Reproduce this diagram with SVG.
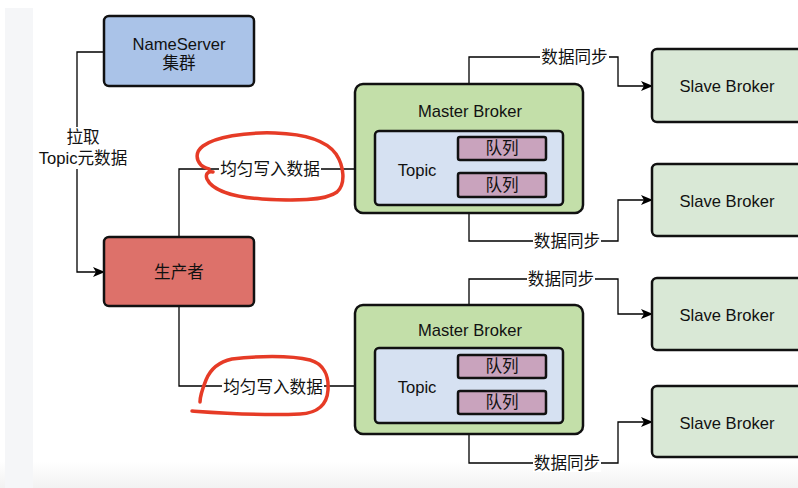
<svg xmlns="http://www.w3.org/2000/svg" width="798" height="488" viewBox="0 0 798 488">
<defs>
<marker id="arr" viewBox="0 0 12 10" refX="11" refY="5" markerWidth="12" markerHeight="10" markerUnits="userSpaceOnUse" orient="auto">
<path d="M0,0 L12,5 L0,10 L3,5 Z" fill="#000"/>
</marker>
<linearGradient id="bot" x1="0" y1="0" x2="0" y2="1">
<stop offset="0" stop-color="#ffffff"/>
<stop offset="1" stop-color="#f2f2f2"/>
</linearGradient>
<style>
.box{stroke:#111;stroke-width:2.5}
.t{font-family:"Liberation Sans","Noto Sans CJK SC",sans-serif;font-size:16.6px;fill:#111;text-anchor:middle;dominant-baseline:central}
.c{fill:none;stroke:#000;stroke-width:1.3}
.lb{fill:#fff}
.red{fill:none;stroke:#e63b26;stroke-width:3.5;stroke-linecap:round;stroke-linejoin:round}
</style>
</defs>
<rect width="798" height="488" fill="#fff"/>
<rect x="0" y="462" width="798" height="26" fill="url(#bot)"/>
<rect x="5" y="8" width="28" height="480" fill="#f5f6f8"/>

<g id="connectors">
<path class="c" d="M104,52 H77 V272 H104" marker-end="url(#arr)"/>
<rect class="lb" x="40" y="127" width="86" height="42"/>
<text class="t" x="83" y="137">拉取</text>
<text class="t" x="83" y="158">Topic元数据</text>

<path class="c" d="M179,237 V169 H375" marker-end="url(#arr)"/>
<rect class="lb" x="219" y="160" width="102" height="18"/>
<text class="t" x="270" y="169">均匀写入数据</text>

<path class="c" d="M179,306 V386 H375" marker-end="url(#arr)"/>
<rect class="lb" x="222" y="377" width="102" height="18"/>
<text class="t" x="273" y="387">均匀写入数据</text>

<path class="c" d="M469,84 V57 H618 V86 H652" marker-end="url(#arr)"/>
<rect class="lb" x="540" y="48" width="69" height="18"/>
<text class="t" x="574.5" y="57">数据同步</text>

<path class="c" d="M469,213 V241 H618 V200 H652" marker-end="url(#arr)"/>
<rect class="lb" x="533" y="232" width="68" height="18"/>
<text class="t" x="567" y="241">数据同步</text>

<path class="c" d="M469,305 V279 H618 V314 H652" marker-end="url(#arr)"/>
<rect class="lb" x="527" y="270" width="68" height="18"/>
<text class="t" x="561" y="279">数据同步</text>

<path class="c" d="M469,434 V463 H618 V422 H652" marker-end="url(#arr)"/>
<rect class="lb" x="533" y="454" width="68" height="18"/>
<text class="t" x="567" y="463">数据同步</text>
</g>

<g id="nameserver">
<rect class="box" x="104" y="16" width="150" height="70" rx="5" fill="#aac3e8"/>
<text class="t" x="179" y="44">NameServer</text>
<text class="t" x="179" y="63">集群</text>
</g>

<g id="producer">
<rect class="box" x="104" y="237" width="150" height="69" rx="5" fill="#dd716a"/>
<text class="t" x="179" y="272">生产者</text>
</g>

<g id="master1">
<rect class="box" x="355" y="84" width="228" height="129" rx="8" fill="#c3dfa9"/>
<text class="t" x="470" y="111">Master Broker</text>
<rect class="box" x="375" y="131" width="188" height="74" rx="4" fill="#d6e1f2"/>
<text class="t" x="417" y="170">Topic</text>
<rect class="box" x="458" y="137" width="88" height="23" rx="2" fill="#c9a3bd"/>
<text class="t" x="502" y="148.5">队列</text>
<rect class="box" x="458" y="173" width="88" height="24" rx="2" fill="#c9a3bd"/>
<text class="t" x="502" y="185">队列</text>
</g>

<g id="master2">
<rect class="box" x="355" y="305" width="228" height="129" rx="8" fill="#c3dfa9"/>
<text class="t" x="470" y="330">Master Broker</text>
<rect class="box" x="375" y="348" width="188" height="75" rx="4" fill="#d6e1f2"/>
<text class="t" x="417" y="387">Topic</text>
<rect class="box" x="458" y="355" width="88" height="23" rx="2" fill="#c9a3bd"/>
<text class="t" x="502" y="366.5">队列</text>
<rect class="box" x="458" y="391" width="88" height="23" rx="2" fill="#c9a3bd"/>
<text class="t" x="502" y="402.5">队列</text>
</g>

<g id="slave1">
<rect class="box" x="652" y="49" width="152" height="73" rx="5" fill="#d9e8d6"/>
<text class="t" x="727" y="86">Slave Broker</text>
</g>
<g id="slave2">
<rect class="box" x="652" y="164" width="152" height="72" rx="5" fill="#d9e8d6"/>
<text class="t" x="727" y="201">Slave Broker</text>
</g>
<g id="slave3">
<rect class="box" x="652" y="278" width="152" height="72" rx="5" fill="#d9e8d6"/>
<text class="t" x="727" y="315">Slave Broker</text>
</g>
<g id="slave4">
<rect class="box" x="652" y="386" width="152" height="71" rx="5" fill="#d9e8d6"/>
<text class="t" x="727" y="423">Slave Broker</text>
</g>

<path class="red" d="M213,172 C208,171 205,174 207,179 C212,190 232,197 262,199 C295,201 325,201 337,192 C346,184 344,166 336,154 C326,140 305,134 275,133 C245,132 215,137 203,146 C195,152 196,160 201,165 C203,167 206,168 209,169"/>
<path class="red" d="M192,411 C220,413 260,416 300,414 C318,413 327,405 328,390 C329,376 324,364 310,360 C290,355 255,356 232,359 C218,362 210,370 206,380 C202,390 200,396 200,402"/>
</svg>
